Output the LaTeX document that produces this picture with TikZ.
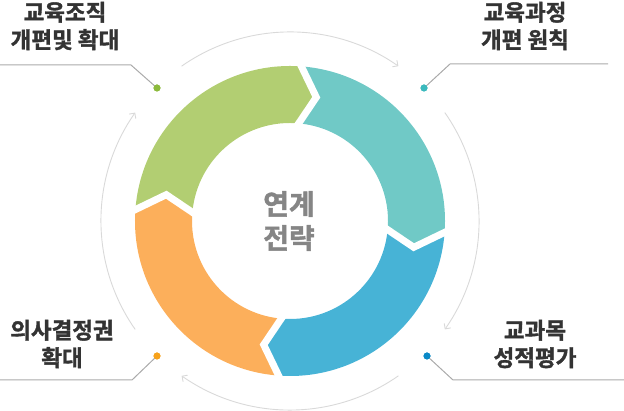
\documentclass[tikz,border=0pt]{standalone}
\usepackage{fontspec}
\newfontfamily\krfont{Noto Sans CJK KR}[BoldFont={Noto Sans CJK KR Bold},BoldFeatures={FakeBold=1.6}]
\usetikzlibrary{arrows.meta,positioning,calc}
\definecolor{segGreen}{HTML}{B2CE72}
\definecolor{segTeal}{HTML}{70C9C6}
\definecolor{segBlue}{HTML}{47B3D6}
\definecolor{segOrange}{HTML}{FCAF5B}
\definecolor{dotGreen}{HTML}{8CBA3C}
\definecolor{dotTeal}{HTML}{3BB9BD}
\definecolor{dotBlue}{HTML}{0A89C7}
\definecolor{dotOrange}{HTML}{F7A21B}
\definecolor{txtGray}{HTML}{333333}
\definecolor{midGray}{HTML}{858585}
\definecolor{lineGray}{HTML}{AAAAAA}
\definecolor{arcGray}{HTML}{D9D9D9}
\begin{document}
\begin{tikzpicture}[x=1pt,y=1pt,>={Straight Barb[length=4pt,width=8pt]},
  lbl/.style={font=\krfont\bfseries\fontsize{22.5}{27.5}\selectfont,text=txtGray,align=center,inner sep=0pt},
  hub/.style={font=\krfont\bfseries\fontsize{28}{34}\selectfont,text=midGray,align=center,inner sep=0pt},
  leader/.style={draw=lineGray,line width=1pt},
  turn/.style={draw=arcGray,line width=0.9pt,->},
  dotmark/.style={circle,inner sep=0pt,minimum size=7pt}]
  \useasboundingbox (0,0) rectangle (624,411);
  \coordinate (c) at (290,190);

  \foreach \a/\b/\col in {177/87/segGreen,87/-3/segTeal,-3/-93/segBlue,-93/-183/segOrange}
    \fill[\col] ($(c)+(\a:155)$) arc[start angle=\a,end angle=\b,radius=155]
      -- ($(c)+({\b-9}:126.5)$) -- ($(c)+(\b:98)$)
      arc[start angle=\b,end angle=\a,radius=98] -- ($(c)+({\a-9}:126.5)$) -- cycle;
  \foreach \b in {87,-3,-93,177}
    \draw[white,line width=7pt] ($(c)+(\b:161)$) -- ($(c)+({\b-9}:126.5)$) -- ($(c)+(\b:92)$);

  \foreach \m in {90,0,-90,180}
    \draw[turn] ($(c)+({\m+35}:189)$) arc[start angle=\m+35,end angle=\m-35,radius=189];

  \node[hub] (hub) at (289,190) {연계\\전략};

  \node[dotmark,fill=dotGreen] (d1) at (157,323) {};
  \node[dotmark,fill=dotTeal] (d2) at (424,323) {};
  \node[dotmark,fill=dotBlue] (d3) at (427,55) {};
  \node[dotmark,fill=dotOrange] (d4) at (157,55) {};
  \coordinate (e1) at (0,346);
  \coordinate (e2) at (608,347);
  \coordinate (e3) at (624,31);
  \coordinate (e4) at (0,31);
  \draw[leader] (d1.center) -- (131,346) -- (e1);
  \draw[leader] (d2.center) -- (450,347) -- (e2);
  \draw[leader] (d3.center) -- (453,31) -- (e3);
  \draw[leader] (d4.center) -- (132,31) -- (e4);
  \fill[dotGreen] (d1) circle (3.5);
  \fill[dotTeal] (d2) circle (3.5);
  \fill[dotBlue] (d3) circle (3.5);
  \fill[dotOrange] (d4) circle (3.5);

  \node[lbl] (org) at (65,385) {교육조직\\개편및 확대};
  \node[lbl] (cur) at (525,385) {교육과정\\개편 원칙};
  \node[lbl] (eval) at (535,67) {교과목\\성적평가};
  \node[lbl] (dec) at (62,67) {의사결정권\\확대};
\end{tikzpicture}
\end{document}
